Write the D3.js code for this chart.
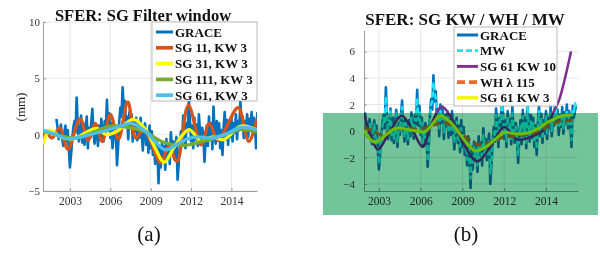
<!DOCTYPE html>
<html>
<head>
<meta charset="utf-8">
<script src="https://cdn.jsdelivr.net/npm/d3@7"></script>
<style>
body { margin: 0; background: #fff; }
svg { display: block; }
text { font-family: "Liberation Serif", "Times New Roman", serif; }
.axis path, .axis line { stroke: #9c9c9c; }
.axis text { fill: #333; font-family: "Liberation Serif", serif; }
</style>
</head>
<body>
<svg id="fig" width="600" height="253"></svg>
<script>
var xTickValues = [2003, 2006, 2009, 2012, 2015];
var xTickLabels = ["2003", "2006", "2009", "2012", "2014"];
var yTicksA = [-5, 0, 5, 10];
var yTicksB = [-4, -2, 0, 2, 4, 6];

// monthly values, first month = graceStart
var graceStart = 2002;
var grace = [
	1.4, 0.6, -0.4, 0.3, 0.9, -0.2, -1.0, 0.2, 0.8, -0.6, 0.4, -1.2,
	-2.9, -1.8, -0.5, 0.6, 1.2, 0.2, 3.3, 0.8, -0.6, 0.3, 1.7, -0.7,
	1.0, -0.9, 0.4, 1.6, -1.2, 0.6, -0.3, 1.1, 2.3, 0.2, -0.8, 0.9,
	0.3, -1.0, 0.8, -0.4, 1.4, 0.1, -0.6, 1.2, 0.5, 3.1, 0.4, 1.9,
	-0.3, 1.0, -1.2, -0.2, 0.6, 0.1, -2.7, -1.0, 1.2, 2.4, 1.6, 4.2,
	2.2, 3.0, 0.8, 1.6, -0.4, 2.0, 0.6, 1.8, -0.6, 1.2, 0.3, 1.5,
	-0.5, 0.9, -0.3, 1.5, 0.2, -1.4, 0.6, 1.0, -0.9, 0.4, -1.6, 0.8,
	-1.2, 0.3, -1.8, -0.6, -2.6, -0.4, -1.4, -4.3, -1.2, -2.9, -0.8, -2.2,
	-1.0, -3.1, -0.4, -1.8, -0.9, -2.6, 0.2, -1.4, -0.6, -2.2, -1.0, -0.2,
	-4.0, -2.5, -1.0, 0.3, -0.8, 1.7, 0.4, -1.2, 1.0, 0.3, 3.0, 1.2,
	-0.6, 0.8, -1.2, 1.5, -0.4, 0.9, -1.0, 1.8, 0.2, -0.9, 0.6, -0.3,
	-2.4, -0.5, 0.8, -1.0, 1.6, -0.4, 1.0, -1.3, 2.5, 0.2, -0.8, 1.2,
	-0.5, 1.0, -1.2, 0.4, -1.8, 0.6, 2.0, -0.4, 1.3, -0.9, 0.8, -0.2,
	1.5, -0.6, 1.0, 0.2, 1.8, -0.4, 1.2, 0.4, 3.0, 0.8, 1.6, -0.3,
	1.2, 0.3, 1.8, -0.2, 1.4, 0.6, 2.0, 0.2, 1.5, 0.7, -1.2, 1.9,
	1.0, 1.5, 1.9
];
var mw = [
	1.0, 0.5, -0.2, 0.2, 0.6, -0.1, -0.8, 0.0, 0.5, -0.5, 0.0, -1.3,
	-2.5, -1.9, -0.7, 0.3, 1.0, 0.5, 2.6, 1.0, -0.2, 0.4, 1.6, -0.3,
	0.6, -0.6, 0.2, 1.3, -0.8, 0.3, 0.0, 0.9, 1.8, 0.4, -0.5, 0.6,
	0.2, -0.6, 0.5, -0.2, 1.0, 0.3, -0.3, 0.9, 0.8, 2.5, 0.8, 1.4,
	0.0, 0.6, -0.9, -0.4, 0.2, -0.3, -2.3, -1.3, 0.8, 2.0, 2.2, 3.7,
	2.8, 2.5, 1.2, 1.3, 0.2, 1.5, 0.9, 1.4, -0.1, 0.9, 0.5, 1.1,
	-0.1, 0.6, 0.0, 1.0, 0.3, -0.9, 0.2, 0.7, -0.6, 0.1, -1.2, 0.2,
	-0.9, -0.2, -1.5, -1.0, -2.2, -0.9, -1.8, -3.6, -1.9, -2.5, -1.2, -1.9,
	-1.4, -2.6, -0.9, -1.6, -1.2, -2.2, -0.3, -1.2, -0.9, -1.9, -1.1, -0.6,
	-3.2, -2.4, -1.2, -0.1, -0.5, 1.2, 0.5, -0.7, 0.8, 0.6, 2.4, 1.1,
	-0.2, 0.5, -0.8, 1.1, -0.1, 0.6, -0.6, 1.3, 0.3, -0.6, 0.3, -0.5,
	-1.9, -0.6, 0.4, -0.7, 1.1, -0.1, 0.6, -0.9, 2.0, 0.5, -0.4, 0.8,
	-0.2, 0.6, -0.9, 0.2, -1.4, 0.3, 1.5, 0.0, 0.9, -0.6, 0.5, 0.1,
	1.1, -0.2, 0.7, 0.4, 1.3, 0.0, 0.9, 0.6, 2.4, 1.0, 1.2, 0.2,
	0.9, 0.5, 1.4, 0.2, 1.1, 0.7, 1.6, 0.5, 1.2, 0.8, -0.7, 1.6,
	1.4, 2.1, 1.8
];

// filtered curves, [year, mm]
var sg11 = [[2001.0,-0.85],[2001.2,0.3],[2001.65,-0.3],[2002.25,0.6],[2002.85,-1.3],[2003.75,1.4],[2004.35,-0.5],[2004.9,1.0],[2005.4,-0.6],[2006.0,1.8],[2006.6,-0.4],[2007.3,2.9],[2007.9,-0.3],[2008.5,0.5],[2009.0,-0.6],[2009.75,-2.5],[2010.35,-1.0],[2010.95,-2.4],[2011.8,2.6],[2012.75,-0.9],[2013.35,1.0],[2014.0,-0.5],[2014.6,0.6],[2015.5,2.4],[2016.3,-0.6],[2016.9,1.4]];
var sg31 = [[2001.0,-0.85],[2001.5,0.4],[2002.3,-0.2],[2003.3,-0.35],[2004.2,0.2],[2005.0,0.55],[2005.7,0.0],[2006.5,0.3],[2007.7,1.35],[2008.6,0.5],[2009.3,-1.1],[2010.0,-2.45],[2010.8,-1.0],[2011.85,0.45],[2012.75,-0.6],[2013.6,-0.2],[2014.4,-0.45],[2015.7,0.75],[2016.9,0.4]];
var sg111 = [[2001.0,0.3],[2002.5,-0.15],[2003.5,-0.3],[2004.7,0.2],[2006.0,0.75],[2007.3,0.65],[2008.5,0.3],[2010.0,-0.7],[2011.5,-0.95],[2012.5,-0.7],[2013.5,-0.4],[2014.6,0.05],[2015.7,0.45],[2016.9,0.25]];
var sg61a = [[2001.0,0.4],[2002.0,0.0],[2002.7,-0.35],[2003.6,-0.25],[2004.6,0.05],[2005.6,0.35],[2006.6,0.7],[2007.6,1.0],[2008.6,0.3],[2009.4,-0.7],[2010.1,-1.35],[2011.0,-0.8],[2011.8,-0.35],[2012.5,-0.2],[2013.5,-0.3],[2014.5,0.0],[2015.7,0.65],[2016.9,0.45]];

var sg61kw10 = [[2001.93,1.3],[2002.4,-0.3],[2002.93,-1.4],[2003.8,0.0],[2004.64,1.15],[2005.4,0.1],[2006.14,-1.2],[2006.8,0.6],[2007.5,1.85],[2008.2,1.0],[2009.1,-1.0],[2010.07,-2.3],[2011.0,-1.2],[2012.0,0.3],[2012.93,-0.65],[2013.9,-0.45],[2014.86,0.1],[2015.57,1.5],[2015.93,2.3],[2016.3,3.7],[2016.8,6.0]];
var wh115 = [[2001.93,0.25],[2002.6,0.0],[2003.2,-0.3],[2004.0,0.1],[2005.0,0.2],[2006.0,0.15],[2006.9,0.45],[2007.7,0.65],[2008.5,0.2],[2009.4,-0.6],[2010.2,-1.05],[2011.0,-0.85],[2012.0,-0.45],[2013.0,-0.35],[2014.1,-0.15],[2015.0,0.25],[2015.9,0.7],[2016.9,0.8]];
var sg61kw3 = [[2001.93,0.05],[2002.7,-0.85],[2003.5,-0.3],[2004.2,0.2],[2005.2,0.1],[2006.3,-0.05],[2006.9,0.6],[2007.4,1.15],[2008.2,0.6],[2009.0,-0.5],[2009.9,-1.5],[2010.7,-1.2],[2011.4,-0.6],[2012.0,-0.1],[2012.7,-0.2],[2013.5,-0.2],[2014.3,0.1],[2015.2,0.7],[2016.2,1.15],[2016.9,1.2]];

var monthly = function(values){
	return values.map(function(v, i){ return [graceStart + i / 12, v]; });
};

var panels = [
	{
		id: "a", left: 43, right: 257, top: 22, bottom: 191,
		xDomain: [2001.0, 2016.9], yDomain: [-5, 10], yTicks: yTicksA, yPad: 3,
		title: "SFER: SG Filter window", titleX: 143, titleY: 21, titleSize: 16.5,
		yLabel: "(mm)", yLabelX: 25, yLabelY: 107,
		caption: "(a)", captionX: 149,
		legend: { x: 152, y: 22, w: 105, h: 79, lineX: 156, lineW: 17, textX: 175, first: 32, step: 15.8 },
		series: [
			{ name: "GRACE", data: monthly(grace), color: "#0072BD", width: 2.6, linear: true },
			{ name: "SG 11, KW 3", data: sg11, color: "#D95319", width: 3.3 },
			{ name: "SG 31, KW 3", data: sg31, color: "#FFFF00", width: 3.3 },
			{ name: "SG 111, KW 3", data: sg111, color: "#77AC30", width: 3.3 },
			{ name: "SG 61, KW 3", data: sg61a, color: "#4DBEEE", width: 3.3 }
		]
	},
	{
		id: "b", left: 364, right: 578, top: 30, bottom: 191,
		xDomain: [2001.93, 2017.3], yDomain: [-4.53, 7.62], yTicks: yTicksB, yPad: 9,
		title: "SFER: SG KW / WH / MW", titleX: 465, titleY: 25, titleSize: 17,
		yLabel: "mm", yLabelX: 352, yLabelY: 110, yLabelClip: 113,
		caption: "(b)", captionX: 466,
		legend: { x: 454, y: 27, w: 103, h: 79, lineX: 457, lineW: 21, textX: 480, first: 35, step: 15.7 },
		series: [
			{ name: "GRACE", data: monthly(grace), color: "#0072BD", width: 2.6, linear: true },
			{ name: "MW", data: monthly(mw), color: "#1AE6F0", width: 2.4, dash: "6,3", linear: true },
			{ name: "SG 61 KW 10", data: sg61kw10, color: "#7E2F8E", width: 2.5 },
			{ name: "WH \u03bb 115", data: wh115, color: "#EC6A2B", width: 3.2, dash: "8,4" },
			{ name: "SG 61 KW 3", data: sg61kw3, color: "#F5F500", width: 3 }
		]
	}
];

var svg = d3.select("#fig");

svg.append("rect")
.attr("width", 600)
.attr("height", 253)
.attr("fill", "#fff");

var drawPanel = function(p){
	var g = svg.append("g").attr("id", "panel-" + p.id);
	var x = d3.scaleLinear().domain(p.xDomain).range([p.left, p.right]);
	var y = d3.scaleLinear().domain(p.yDomain).range([p.bottom, p.top]);

	g.append("g").selectAll("line")
	.data(xTickValues)
	.join("line")
	.attr("x1", function(d){ return x(d); })
	.attr("x2", function(d){ return x(d); })
	.attr("y1", p.top)
	.attr("y2", p.bottom)
	.attr("stroke", "#e6e6e6");

	g.append("g").selectAll("line")
	.data(p.yTicks)
	.join("line")
	.attr("x1", p.left)
	.attr("x2", p.right)
	.attr("y1", function(d){ return y(d); })
	.attr("y2", function(d){ return y(d); })
	.attr("stroke", "#e6e6e6");

	g.append("g")
	.attr("class", "axis")
	.attr("transform", "translate(0," + p.bottom + ")")
	.call(d3.axisBottom(x).tickValues(xTickValues).tickSizeInner(-3).tickSizeOuter(0).tickPadding(6)
		.tickFormat(function(d, i){ return xTickLabels[i]; }))
	.selectAll("text")
	.style("font-size", "11.5px");

	g.append("g")
	.attr("class", "axis")
	.attr("transform", "translate(" + p.left + ",0)")
	.call(d3.axisLeft(y).tickValues(p.yTicks).tickSizeInner(-3).tickSizeOuter(0).tickPadding(p.yPad))
	.selectAll("text")
	.style("font-size", "11px");

	g.append("clipPath")
	.attr("id", "clip-" + p.id)
	.append("rect")
	.attr("x", p.left)
	.attr("y", p.top)
	.attr("width", p.right - p.left)
	.attr("height", p.bottom - p.top);

	var lines = g.append("g").attr("clip-path", "url(#clip-" + p.id + ")");

	p.series.forEach(function(s){
		var line = d3.line()
		.x(function(d){ return x(d[0]); })
		.y(function(d){ return y(d[1]); })
		.curve(s.linear ? d3.curveLinear : d3.curveCatmullRom.alpha(0.5));

		lines.append("path")
		.datum(s.data)
		.attr("d", line)
		.attr("fill", "none")
		.attr("stroke", s.color)
		.attr("stroke-width", s.width)
		.attr("stroke-linejoin", "round")
		.attr("stroke-dasharray", s.dash || null);
	});

	var lg = p.legend;
	var legend = g.append("g");
	legend.append("rect")
	.attr("x", lg.x)
	.attr("y", lg.y)
	.attr("width", lg.w)
	.attr("height", lg.h)
	.attr("fill", "#fff")
	.attr("stroke", "#a8a8a8")
	.attr("stroke-width", 0.8);

	var items = legend.selectAll("g.item")
	.data(p.series)
	.join("g")
	.attr("class", "item")
	.attr("transform", function(d, i){ return "translate(0," + (lg.first + i * lg.step) + ")"; });

	items.append("line")
	.attr("x1", lg.lineX)
	.attr("x2", lg.lineX + lg.lineW)
	.attr("stroke", function(d){ return d.color; })
	.attr("stroke-width", function(d){ return d.width + 0.4; })
	.attr("stroke-dasharray", function(d){ return d.dash || null; });

	items.append("text")
	.attr("x", lg.textX)
	.attr("dy", "0.35em")
	.attr("font-size", "13px")
	.attr("font-weight", "bold")
	.attr("fill", "#111")
	.text(function(d){ return d.name; });

	g.append("text")
	.attr("x", p.titleX)
	.attr("y", p.titleY)
	.attr("text-anchor", "middle")
	.attr("font-size", p.titleSize + "px")
	.attr("font-weight", "bold")
	.attr("fill", "#111")
	.text(p.title);

	var yl = g.append("text")
	.attr("transform", "translate(" + p.yLabelX + "," + p.yLabelY + ") rotate(-90)")
	.attr("text-anchor", "middle")
	.attr("font-size", "13px")
	.attr("fill", "#222")
	.text(p.yLabel);

	if(p.yLabelClip){
		g.append("clipPath")
		.attr("id", "ylab-" + p.id)
		.append("rect")
		.attr("x", 0)
		.attr("y", 0)
		.attr("width", 600)
		.attr("height", p.yLabelClip);
		yl.attr("clip-path", "url(#ylab-" + p.id + ")");
	}

	g.append("text")
	.attr("x", p.captionX)
	.attr("y", 241)
	.attr("text-anchor", "middle")
	.attr("font-family", "Lato, 'Open Sans', sans-serif")
	.attr("font-size", "21px")
	.attr("fill", "#111")
	.text(p.caption);
};

panels.forEach(drawPanel);

// green overlay over the lower part of panel (b)
svg.append("rect")
.attr("x", 323)
.attr("y", 113)
.attr("width", 275)
.attr("height", 102)
.attr("fill", "#73c49b")
.style("mix-blend-mode", "multiply");
</script>
</body>
</html>
